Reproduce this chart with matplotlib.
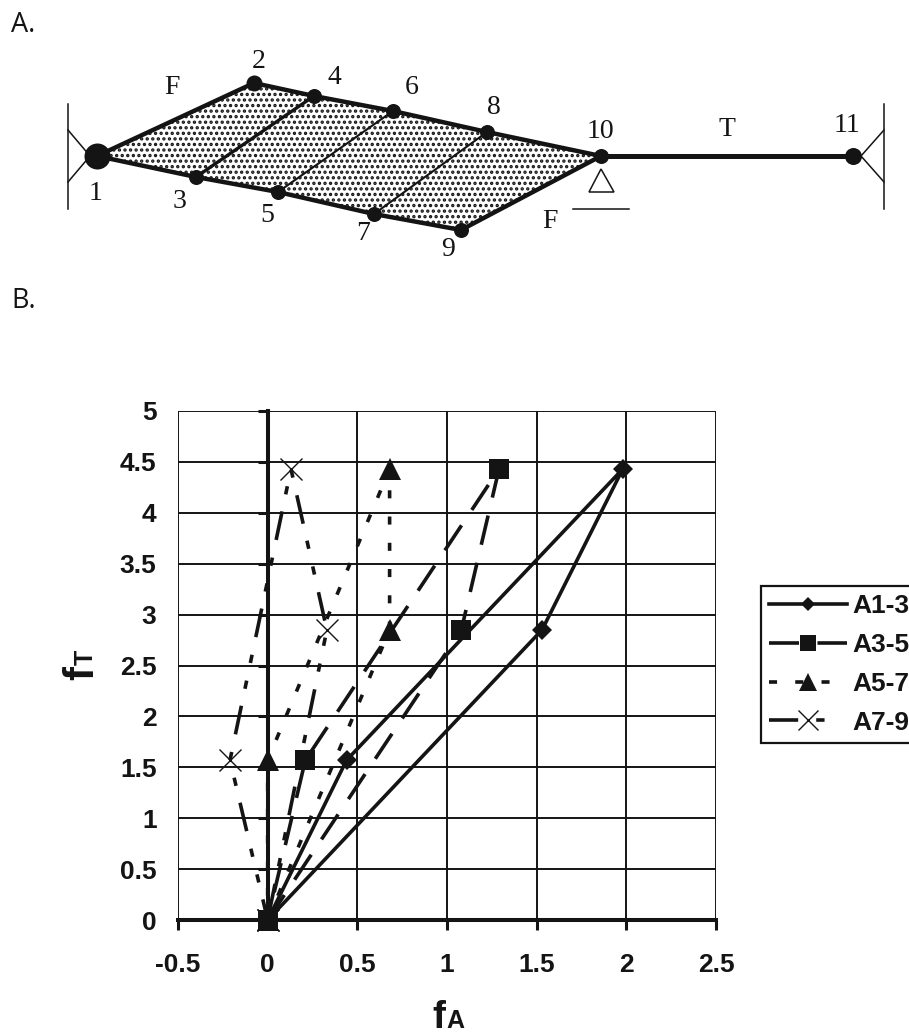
import matplotlib
matplotlib.use("Agg")
import matplotlib.pyplot as plt
from matplotlib.patches import Polygon

plt.rcParams['lines.scale_dashes'] = False
plt.rcParams['hatch.linewidth'] = 1.6

W, H = 909, 1036
INK = '#141414'

# ---- chart data ----
series_names = ['A1-3', 'A3-5', 'A5-7', 'A7-9']
a13_x = [0, 1.53, 1.98, 0.44, 0]
a35_x = [0, 1.08, 1.29, 0.21, 0]
a57_x = [0, 0.68, 0.68, 0.0, 0]
a79_x = [0, 0.33, 0.13, -0.21, 0]
ft_y = [0, 2.85, 4.43, 1.57, 0]
x_ticks = [-0.5, 0, 0.5, 1, 1.5, 2, 2.5]
y_ticks = [0, 0.5, 1, 1.5, 2, 2.5, 3, 3.5, 4, 4.5, 5]
x_labels = ['-0.5', '0', '0.5', '1', '1.5', '2', '2.5']
y_labels = ['0', '0.5', '1', '1.5', '2', '2.5', '3', '3.5', '4', '4.5', '5']

# ---- diagram data (image pixel coordinates) ----
node_names = ['1', '2', '3', '4', '5', '6', '7', '8', '9', '10', '11']
node_x = [97, 254, 196, 314, 278, 393, 374, 487, 461, 601, 853]
node_y = [156, 83, 177, 96, 192, 111, 214, 132, 230, 156, 156]
node_size = [26, 16, 15, 15, 15, 15, 15, 15, 15, 15, 17]
label_x = [96, 259, 179, 334, 267, 412, 363, 494, 448, 600, 847]
label_y = [194, 61, 202, 77, 215, 88, 233, 107, 250, 131, 126]
outline = [0, 1, 9, 8, 2]
edges = [(0, 1), (1, 3), (3, 5), (5, 7), (7, 9), (0, 2), (2, 4), (4, 6), (6, 8), (8, 9)]
inner_links = [(3, 2), (5, 4), (7, 6)]
inner_widths = [2.4, 1.5, 1.5]

fig = plt.figure(figsize=(W / 100, H / 100), dpi=100, facecolor='white')

# ---- panel A: whole-figure overlay in pixels ----
bg = fig.add_axes([0, 0, 1, 1])
bg.set_xlim(0, W)
bg.set_ylim(H, 0)
bg.axis('off')
bg.add_patch(Polygon([(node_x[i], node_y[i]) for i in outline], closed=True,
                     facecolor='white', edgecolor=INK, hatch='...', lw=0))
for a, b in edges:
    bg.plot([node_x[a], node_x[b]], [node_y[a], node_y[b]], color=INK, lw=3.2,
            solid_capstyle='round')
for (a, b), w in zip(inner_links, inner_widths):
    bg.plot([node_x[a], node_x[b]], [node_y[a], node_y[b]], color=INK, lw=w)
bg.plot([node_x[9], node_x[10]], [node_y[9], node_y[10]], color=INK, lw=3.6)
for x, y, s in zip(node_x, node_y, node_size):
    bg.plot(x, y, 'o', color=INK, ms=s * 0.72, mew=0)
serif = dict(family='Liberation Serif', fontsize=20, color=INK, ha='center', va='center')
for name, x, y in zip(node_names, label_x, label_y):
    bg.text(x, y, name, **serif)
bg.text(172, 88, 'F', **serif)
bg.text(550, 221, 'F', **serif)
bg.text(727, 129, 'T', **serif)
bg.text(11, 32, 'A.', family='Open Sans', fontsize=19.5, color=INK, ha='left', va='baseline')
bg.text(11, 308, 'B.', family='Open Sans', fontsize=19.5, color=INK, ha='left', va='baseline')
# supports
bg.plot([68, 68], [104, 209], color=INK, lw=1.1)
bg.plot([68, 90, 68], [130, 156, 182], color=INK, lw=1.1)
bg.plot([884, 884], [104, 209], color=INK, lw=1.1)
bg.plot([884, 861, 884], [130, 156, 182], color=INK, lw=1.1)
bg.add_patch(Polygon([(601, 169), (589, 192), (614, 192)], closed=True,
                     facecolor='white', edgecolor=INK, lw=1.1))
bg.plot([573, 629], [209, 209], color=INK, lw=1.1)

# ---- panel B ----
L, R, T, B = 178, 716, 411, 920
ax = fig.add_axes([L / W, 1 - B / H, (R - L) / W, (B - T) / H])
ax.patch.set_alpha(0)
ax.set_xlim(-0.5, 2.5)
ax.set_ylim(0, 5)
ax.grid(True, color=INK, lw=1.4)
ax.set_axisbelow(True)
for s in ['top', 'right']:
    ax.spines[s].set_visible(False)
ax.spines['left'].set_position(('data', 0))
ax.spines['left'].set_linewidth(2.9)
ax.spines['bottom'].set_linewidth(2.9)
ax.spines['left'].set_color(INK)
ax.spines['bottom'].set_color(INK)
ax.set_xticks(x_ticks, x_labels)
ax.set_yticks(y_ticks, y_labels)
ax.tick_params(axis='x', length=7.5, width=2.2, pad=16, color=INK)
ax.tick_params(axis='y', length=7.5, width=2.2, pad=72.5, color=INK)
for t in ax.get_xticklabels() + ax.get_yticklabels():
    t.set_family('Liberation Sans')
    t.set_fontweight('bold')
    t.set_fontsize(19)
    t.set_color(INK)

styles = [
    dict(ls='-', marker='D', ms=10.5, lw=2.6),
    dict(ls=(0, (21.6, 13.3)), marker='s', ms=14, lw=2.6),
    dict(ls=(0, (5.8, 13.1)), marker='^', ms=15.5, lw=2.6),
    dict(ls=(66, (21, 13, 6, 13, 6, 12.5)), marker='x', ms=16, lw=2.6),
]
for name, xs, st in zip(series_names, [a13_x, a35_x, a57_x, a79_x], styles):
    mew = 1.0 if st['marker'] == 'x' else 0
    ax.plot(xs, ft_y, color=INK, linestyle=st['ls'], lw=st['lw'], marker=st['marker'],
            ms=st['ms'], mew=mew, mec=INK, mfc=INK, label=name, clip_on=False,
            dash_capstyle='butt', zorder=4)

# axis titles: a large letter and a small one sharing a baseline
bold = dict(family='Liberation Sans', fontweight='bold', color=INK)
bg.text(432, 1028, 'f', fontsize=28, ha='left', va='baseline', **bold)
bg.text(446, 1028, 'A', fontsize=18, ha='left', va='baseline', **bold)
bg.text(93, 680, 'f', fontsize=30, ha='left', va='baseline', rotation=90,
        rotation_mode='anchor', **bold)
bg.text(93, 665, 'T', fontsize=18, ha='left', va='baseline', rotation=90,
        rotation_mode='anchor', **bold)

leg = ax.legend(loc='upper left', bbox_to_anchor=(761 / W, 1 - 586 / H),
                bbox_transform=fig.transFigure, fancybox=False, framealpha=1,
                edgecolor=INK, borderaxespad=0, prop={'family': 'Liberation Sans',
                'weight': 'bold', 'size': 19}, handlelength=2.92, handletextpad=0.24,
                labelspacing=0.557, borderpad=0.32, labelcolor=INK)
leg.get_frame().set_linewidth(1.6)
leg.set_zorder(10)
for h, ms in zip(leg.legend_handles, [7.5, 11.5, 13.5, 14.5]):
    h.set_markersize(ms)
leg.legend_handles[3].set_linestyle((0, (21, 13, 6, 40)))

fig.savefig('out.png', dpi=100, facecolor='white')
